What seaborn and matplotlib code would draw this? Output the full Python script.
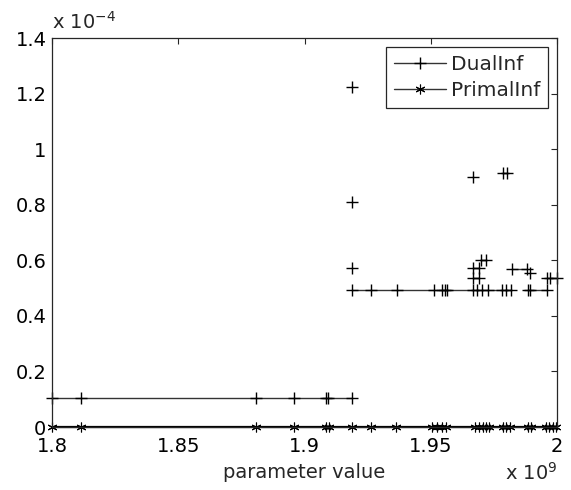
import numpy as np
import pandas as pd
import matplotlib
matplotlib.use("Agg")
import matplotlib.pyplot as plt
from matplotlib.lines import Line2D
import seaborn as sns

# ---- data (x in units of 1e9, y in units of 1e-4) ----
dual_seg_low_x = [1.8000, 1.8116, 1.8807, 1.8960, 1.9087, 1.9095, 1.9189]
dual_seg_low_y = [0.105] * 7
dual_seg_main_x = [1.9189, 1.9262, 1.9365, 1.9512, 1.9543, 1.9555, 1.9563,
                   1.9668, 1.9685, 1.9704, 1.9725, 1.9781, 1.9799, 1.9816]
dual_seg_main_y = [0.492] * 14
dual_seg_c_x = [1.9885, 1.9893, 1.9959]
dual_seg_c_y = [0.492, 0.492, 0.492]
dual_seg_d_x = [1.9820, 1.9883]
dual_seg_d_y = [0.567, 0.567]
dual_seg_e_x = [1.9959, 1.9973, 2.0000]
dual_seg_e_y = [0.537, 0.537, 0.537]
dual_seg_f_x = [1.9668, 1.9690]
dual_seg_f_y = [0.571, 0.571]
dual_seg_g_x = [1.9668, 1.9690]
dual_seg_g_y = [0.536, 0.536]
dual_seg_h_x = [1.9699, 1.9719]
dual_seg_h_y = [0.600, 0.600]
dual_seg_i_x = [1.9785, 1.9803]
dual_seg_i_y = [0.913, 0.913]

dual_pts_x = [1.9189, 1.9189, 1.9189, 1.9668, 1.9893]
dual_pts_y = [1.222, 0.811, 0.573, 0.898, 0.553]

primal_x = [1.8000, 1.8116, 1.8807, 1.8960, 1.9087, 1.9096, 1.9189, 1.9262,
            1.9361, 1.9504, 1.9524, 1.9543, 1.9560, 1.9675, 1.9691, 1.9706,
            1.9719, 1.9732, 1.9785, 1.9798, 1.9814, 1.9886, 1.9896, 1.9955,
            1.9969, 1.9984, 1.9996]
primal_y = [0.0] * len(primal_x)

x_ticks = [1.8, 1.85, 1.9, 1.95, 2.0]
x_tick_labels = ["1.8", "1.85", "1.9", "1.95", "2"]
y_ticks = [0, 0.2, 0.4, 0.6, 0.8, 1.0, 1.2, 1.4]
y_tick_labels = ["0", "0.2", "0.4", "0.6", "0.8", "1", "1.2", "1.4"]
legend_labels = ["DualInf", "PrimalInf"]

segs = [(dual_seg_low_x, dual_seg_low_y), (dual_seg_main_x, dual_seg_main_y),
        (dual_seg_c_x, dual_seg_c_y), (dual_seg_d_x, dual_seg_d_y),
        (dual_seg_e_x, dual_seg_e_y), (dual_seg_f_x, dual_seg_f_y),
        (dual_seg_g_x, dual_seg_g_y), (dual_seg_h_x, dual_seg_h_y),
        (dual_seg_i_x, dual_seg_i_y)]
rows = []
for i, (xs, ys) in enumerate(segs):
    for xv, yv in zip(xs, ys):
        rows.append({"x": xv, "y": yv, "seg": i})
df_dual = pd.DataFrame(rows)
df_pts = pd.DataFrame({"x": dual_pts_x, "y": dual_pts_y})
df_primal = pd.DataFrame({"x": primal_x, "y": primal_y})

sns.set_theme(style="white")
plt.rcParams["font.family"] = ["DejaVu Sans"]
plt.rcParams["mathtext.fontset"] = "dejavusans"

FS = 14
ASTER = (6, 2, 0)

fig = plt.figure(figsize=(5.71, 4.90), dpi=100)
ax = fig.add_axes([52 / 571, 1 - 427 / 490, (557 - 52) / 571, (427 - 38) / 490])

sns.lineplot(data=df_dual, x="x", y="y", units="seg", estimator=None, sort=False,
             color="#333333", linewidth=1.0, marker="+", markersize=8,
             markeredgewidth=1.0, markeredgecolor="black", ax=ax, legend=False,
             clip_on=False)
sns.scatterplot(data=df_pts, x="x", y="y", marker="+", s=64, color="black",
                linewidth=1.0, ax=ax, legend=False, clip_on=False)
sns.lineplot(data=df_primal, x="x", y="y", estimator=None, sort=False,
             color="black", linewidth=1.6, marker=ASTER, markersize=7,
             markeredgewidth=0.8, markeredgecolor="black", ax=ax, legend=False,
             clip_on=False)

ax.set_xlim(1.8, 2.0)
ax.set_ylim(0, 1.4)
ax.set_xticks(x_ticks)
ax.set_xticklabels(x_tick_labels)
ax.set_yticks(y_ticks)
ax.set_yticklabels(y_tick_labels)
ax.tick_params(direction="in", length=4, width=0.8, top=True, right=True,
               labelsize=FS, colors="#262626", labelcolor="black")
ax.tick_params(axis="x", pad=7)
ax.tick_params(axis="y", pad=4)
for sp in ax.spines.values():
    sp.set_visible(True)
    sp.set_color("#262626")
    sp.set_linewidth(0.9)
ax.set_xlabel("parameter value", fontsize=FS, labelpad=5)
ax.set_ylabel("")

ax.text(0.0, 1.013, r"x 10$^{-4}$", transform=ax.transAxes, ha="left",
        va="bottom", fontsize=FS)
ax.text(1.0, -0.09, r"x 10$^{9}$", transform=ax.transAxes, ha="right",
        va="top", fontsize=FS)

handles = [Line2D([0], [0], color="#333333", lw=1.0, marker="+", markersize=8,
                  markeredgecolor="black"),
           Line2D([0], [0], color="#333333", lw=1.0, marker=ASTER, markersize=7,
                  markeredgecolor="black", markeredgewidth=0.8)]
leg = ax.legend(handles, legend_labels, loc="upper right", fontsize=14.5,
                frameon=True, fancybox=False, framealpha=1, edgecolor="#262626",
                handlelength=2.6, handletextpad=0.2, borderpad=0.4,
                labelspacing=0.35, borderaxespad=0.45)
leg.get_frame().set_linewidth(0.9)

fig.savefig("out.png", dpi=100)
